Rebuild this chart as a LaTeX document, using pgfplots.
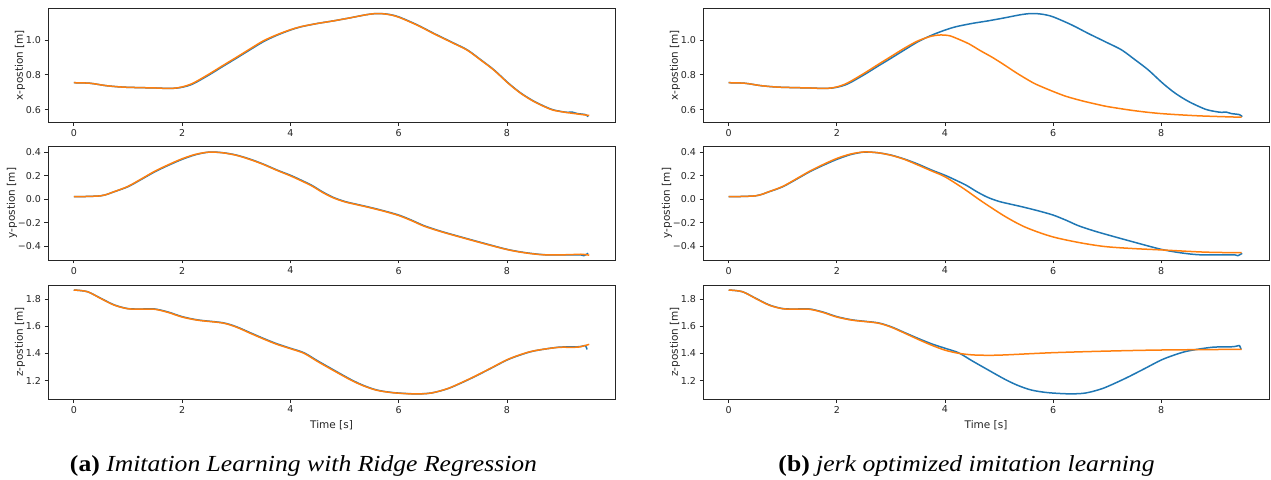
\documentclass[border=0pt]{standalone}
\usepackage{fontspec}
\setmainfont{DejaVu Sans}
\newfontfamily\capfont{Liberation Serif}
\usepackage{graphicx}
\usepackage{pgfplots}
\usepackage{pgfplotstable}
\pgfplotsset{compat=1.18}
\definecolor{mblue}{HTML}{1F77B4}
\definecolor{morange}{HTML}{FF7F0E}

% ---- demonstration (blue) ----
\pgfplotstableread{
t v
0 0.755
0.3 0.752
0.6 0.738
0.9 0.730
1.2 0.727
1.5 0.725
1.8 0.722
2.0 0.729
2.2 0.748
2.5 0.80
2.75 0.848
3.0 0.895
3.25 0.943
3.5 0.99
3.75 1.027
4.0 1.057
4.2 1.076
4.5 1.095
4.8 1.11
5.1 1.127
5.4 1.145
5.6 1.152
5.8 1.148
6.0 1.133
6.35 1.086
6.65 1.038
7.0 0.985
7.27 0.943
7.52 0.886
7.76 0.829
8.03 0.752
8.26 0.695
8.51 0.647
8.81 0.604
9.0 0.590
9.12 0.585
9.2 0.587
9.3 0.578
9.45 0.572
9.5 0.560
}\bx
\pgfplotstableread{
t v
0 0.022
0.5 0.03
0.75 0.065
1.0 0.107
1.25 0.17
1.5 0.235
1.75 0.29
2.0 0.34
2.25 0.38
2.5 0.402
2.75 0.397
3.0 0.377
3.25 0.343
3.5 0.30
3.75 0.25
4.0 0.205
4.2 0.163
4.4 0.118
4.6 0.062
4.8 0.015
5.0 -0.018
5.2 -0.040
5.42 -0.063
5.7 -0.095
6.0 -0.134
6.25 -0.18
6.47 -0.225
6.75 -0.268
7.02 -0.304
7.5 -0.365
8.0 -0.426
8.35 -0.455
8.69 -0.472
9.12 -0.474
9.37 -0.474
9.42 -0.48
9.5 -0.46
}\by
\pgfplotstableread{
t v
0 1.868
0.25 1.856
0.5 1.807
0.75 1.758
1.0 1.731
1.25 1.728
1.5 1.728
1.75 1.705
2.0 1.672
2.3 1.647
2.75 1.627
3.0 1.598
3.25 1.555
3.5 1.512
3.75 1.472
4.0 1.439
4.25 1.406
4.5 1.347
4.8 1.279
5.11 1.21
5.35 1.165
5.6 1.131
5.9 1.112
6.3 1.103
6.6 1.109
6.9 1.140
7.15 1.182
7.4 1.229
7.7 1.29
8.0 1.352
8.25 1.39
8.5 1.419
8.94 1.446
9.31 1.45
9.4 1.455
9.45 1.458
9.48 1.43
}\bz
% ---- ridge regression (orange, left) ----
\pgfplotstableread{
t v
0 0.755
0.3 0.752
0.6 0.738
0.9 0.730
1.2 0.727
1.5 0.725
1.8 0.722
2.0 0.731
2.2 0.752
2.5 0.805
2.75 0.853
3.0 0.900
3.25 0.948
3.5 0.995
3.75 1.030
4.0 1.059
4.2 1.077
4.5 1.095
4.8 1.11
5.1 1.127
5.4 1.145
5.6 1.152
5.8 1.147
6.0 1.131
6.35 1.084
6.65 1.036
7.0 0.983
7.27 0.941
7.52 0.884
7.76 0.827
8.03 0.750
8.26 0.693
8.51 0.645
8.81 0.602
9.0 0.589
9.2 0.580
9.52 0.567
}\ox
\pgfplotstableread{
t v
0 0.022
0.5 0.03
0.75 0.066
1.0 0.110
1.25 0.174
1.5 0.240
1.75 0.295
2.0 0.345
2.25 0.383
2.5 0.402
2.75 0.396
3.0 0.375
3.25 0.340
3.5 0.297
3.75 0.247
4.0 0.200
4.2 0.158
4.4 0.113
4.6 0.057
4.8 0.011
5.0 -0.021
5.2 -0.043
5.42 -0.066
5.7 -0.098
6.0 -0.138
6.25 -0.184
6.47 -0.229
6.75 -0.271
7.02 -0.307
7.5 -0.368
8.0 -0.428
8.35 -0.457
8.69 -0.473
9.12 -0.472
9.37 -0.468
9.52 -0.476
}\oy
\pgfplotstableread{
t v
0 1.868
0.25 1.856
0.5 1.805
0.75 1.756
1.0 1.730
1.25 1.728
1.5 1.726
1.75 1.702
2.0 1.669
2.3 1.645
2.75 1.625
3.0 1.595
3.25 1.551
3.5 1.508
3.75 1.468
4.0 1.436
4.25 1.402
4.5 1.342
4.8 1.274
5.11 1.206
5.35 1.162
5.6 1.129
5.9 1.111
6.3 1.102
6.6 1.109
6.9 1.141
7.15 1.184
7.4 1.231
7.7 1.292
8.0 1.354
8.25 1.392
8.5 1.420
8.94 1.445
9.31 1.447
9.52 1.468
}\oz
% ---- jerk optimized (orange, right) ----
\pgfplotstableread{
t v
0 0.755
0.3 0.752
0.6 0.738
0.9 0.730
1.2 0.727
1.5 0.725
1.8 0.722
2.0 0.731
2.2 0.754
2.5 0.808
2.75 0.857
3.0 0.905
3.25 0.953
3.5 0.995
3.75 1.022
3.92 1.029
4.08 1.025
4.25 1.005
4.45 0.977
4.65 0.940
4.88 0.900
5.1 0.857
5.31 0.814
5.5 0.778
5.68 0.747
6.0 0.705
6.25 0.676
6.54 0.651
6.8 0.632
7.03 0.617
7.52 0.594
8.0 0.578
8.7 0.565
9.49 0.557
}\jx
\pgfplotstableread{
t v
0 0.022
0.5 0.03
0.75 0.066
1.0 0.110
1.25 0.174
1.5 0.240
1.75 0.297
2.0 0.348
2.25 0.385
2.5 0.403
2.75 0.397
3.0 0.375
3.25 0.340
3.5 0.292
3.75 0.242
4.0 0.192
4.35 0.090
4.69 -0.020
5.12 -0.148
5.5 -0.240
5.98 -0.318
6.5 -0.370
6.97 -0.403
7.5 -0.420
8.0 -0.431
8.81 -0.450
9.49 -0.455
}\jy
\pgfplotstableread{
t v
0 1.868
0.25 1.856
0.5 1.805
0.75 1.756
1.0 1.730
1.25 1.728
1.5 1.726
1.75 1.702
2.0 1.669
2.3 1.645
2.75 1.625
3.0 1.595
3.25 1.551
3.5 1.505
3.75 1.462
4.0 1.425
4.25 1.402
4.51 1.390
4.82 1.387
5.12 1.390
5.98 1.406
7.0 1.418
8.0 1.426
9.49 1.431
}\jz

\pgfplotsset{
 panel/.style={
   scale only axis, width=567pt, height=114pt,
   xmin=-0.476, xmax=9.996,
   xtick={0,2,4,6,8}, xticklabels={0,2,4,6,8},
   tick pos=left, tick align=outside,
   major tick length=3.5pt,
   axis line style={line width=0.8pt, black!85},
   every tick/.style={line width=0.8pt, black!85},
   tick label style={font=\fontsize{9.5}{11}\selectfont, text=black!85},
   label style={font=\fontsize{10.5}{12}\selectfont, text=black!85},
   ylabel shift=-6pt,
   every axis plot/.append style={line width=1.5pt, smooth, no markers},
   anchor=south west,
 },
 xp/.style={ymin=0.528, ymax=1.182, ytick={0.6,0.8,1.0}, yticklabels={0.6,0.8,1.0}, ylabel={x-postion [m]}},
 yp/.style={ymin=-0.517, ymax=0.454, ytick={-0.4,-0.2,0,0.2,0.4}, yticklabels={−0.4,−0.2,0.0,0.2,0.4}, ylabel={y-postion [m]}},
 zp/.style={ymin=1.065, ymax=1.905, ytick={1.2,1.4,1.6,1.8}, yticklabels={1.2,1.4,1.6,1.8}, ylabel={z-postion [m]}, xlabel={Time [s]}},
}

\begin{document}
\begin{tikzpicture}[x=1pt,y=1pt]
\useasboundingbox (0,0) rectangle (1271,479);
% left group
\begin{axis}[panel, xp, at={(48pt,356.7pt)}]
\addplot[mblue] table[x=t,y=v]{\bx};
\addplot[morange] table[x=t,y=v]{\ox};
\end{axis}
\begin{axis}[panel, yp, at={(48pt,219pt)}]
\addplot[mblue] table[x=t,y=v]{\by};
\addplot[morange] table[x=t,y=v]{\oy};
\end{axis}
\begin{axis}[panel, zp, at={(48pt,80pt)}]
\addplot[mblue] table[x=t,y=v]{\bz};
\addplot[morange] table[x=t,y=v]{\oz};
\end{axis}
% right group
\begin{axis}[panel, xp, width=566pt, at={(703pt,356.7pt)}]
\addplot[mblue] table[x=t,y=v]{\bx};
\addplot[morange] table[x=t,y=v]{\jx};
\end{axis}
\begin{axis}[panel, yp, width=566pt, at={(703pt,219pt)}]
\addplot[mblue] table[x=t,y=v]{\by};
\addplot[morange] table[x=t,y=v]{\jy};
\end{axis}
\begin{axis}[panel, zp, width=566pt, at={(703pt,80pt)}]
\addplot[mblue] table[x=t,y=v]{\bz};
\addplot[morange] table[x=t,y=v]{\jz};
\end{axis}
\node[anchor=base, font=\capfont\fontsize{23}{27}\selectfont] at (303.5,8) {\scalebox{1.115}[1]{\textbf{(a)} \textit{Imitation Learning with Ridge Regression}}};
\node[anchor=base, font=\capfont\fontsize{23}{27}\selectfont] at (966.5,8) {\scalebox{1.115}[1]{\textbf{(b)} \textit{jerk optimized imitation learning}}};
\end{tikzpicture}
\end{document}
